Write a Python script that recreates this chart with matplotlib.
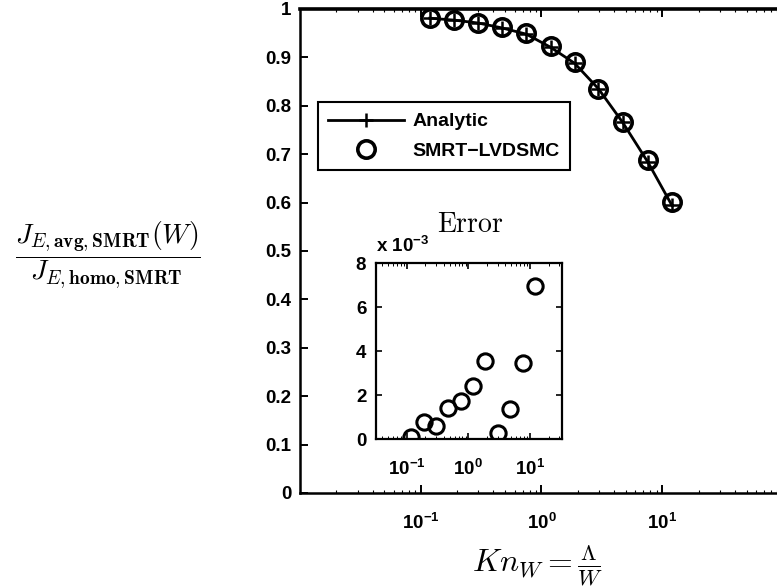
import numpy as np
import matplotlib
matplotlib.use("Agg")
import matplotlib.pyplot as plt
from matplotlib.ticker import LogLocator, FixedLocator, NullFormatter

plt.rcParams['font.family'] = ['Liberation Sans', 'DejaVu Sans']
plt.rcParams['font.weight'] = 'bold'
plt.rcParams['mathtext.fontset'] = 'cm'

# Knudsen numbers
kn = [0.119, 0.19, 0.30, 0.47, 0.75, 1.19, 1.88, 2.97, 4.7, 7.6, 12.0]
# normalised average flux
analytic = [0.981, 0.977, 0.971, 0.961, 0.948, 0.921, 0.888, 0.835, 0.766, 0.684, 0.595]
lvdsmc = [0.981, 0.978, 0.972, 0.962, 0.950, 0.923, 0.891, 0.835, 0.767, 0.687, 0.602]
# relative error, in units of 1e-3
err_e3 = [0.10, 0.79, 0.60, 1.42, 1.74, 2.42, 3.56, 0.26, 1.36, 3.44, 6.97]

main_yticks = [0, 0.1, 0.2, 0.3, 0.4, 0.5, 0.6, 0.7, 0.8, 0.9, 1]
main_yticklabels = ['0', '0.1', '0.2', '0.3', '0.4', '0.5', '0.6', '0.7', '0.8', '0.9', '1']
inset_yticks = [0, 2, 4, 6, 8]

fig = plt.figure(figsize=(7.77, 5.88), dpi=100)

# main axes (right edge runs off the picture, like the scan)
ax = fig.add_axes([0.386, 0.1616, 0.6216, 0.8231])
ax.plot(kn, analytic, color='black', lw=2, marker='+', ms=10, mew=1.8, label='Analytic')
ax.plot(kn, lvdsmc, ls='none', marker='o', ms=12.5, mfc='none', mec='black', mew=2.6,
        label='SMRT\u2212LVDSMC')
ax.set_xscale('log')
ax.set_xlim(1e-2, 1e2)
ax.set_ylim(0, 1)
ax.set_yticks(main_yticks)
ax.set_yticklabels(main_yticklabels)
ax.xaxis.set_major_locator(FixedLocator([1e-1, 1e0, 1e1]))
ax.xaxis.set_minor_locator(LogLocator(subs=np.arange(2, 10)))
ax.xaxis.set_minor_formatter(NullFormatter())
ax.tick_params(which='major', direction='in', length=6, width=1.4, top=True, right=False,
               labelsize=13.5, pad=6)
ax.tick_params(axis='x', which='major', pad=14)
ax.tick_params(which='minor', direction='in', length=2.5, width=0.8, top=True)
for s in ax.spines.values():
    s.set_linewidth(1.8)
ax.spines['top'].set_linewidth(2.6)

leg = ax.legend(loc='upper left', bbox_to_anchor=(0.409, 0.8265),
                bbox_transform=fig.transFigure, fancybox=False, edgecolor='black',
                framealpha=1, fontsize=14, handlelength=3.9, handletextpad=0.4,
                labelspacing=0.6, borderpad=0.55, borderaxespad=0)
leg.get_frame().set_linewidth(1.5)

fig.text(108 / 777, 1 - 255 / 588,
         r'$\dfrac{J_{E,\mathbf{avg,SMRT}}(W)}{J_{E,\mathbf{homo,SMRT}}}$',
         ha='center', va='center', fontsize=20, fontweight='normal')
fig.text(537 / 777, 1 - 566 / 588, r'$Kn_W = \frac{\Lambda}{W}$',
         ha='center', va='center', fontsize=23, fontweight='normal')

# inset with the error
ins = fig.add_axes([0.4839, 0.2534, 0.2394, 0.2993])
ins.plot(kn, err_e3, ls='none', marker='o', ms=11, mfc='none', mec='black', mew=2.2)
ins.set_xscale('log')
ins.set_xlim(10 ** -1.5, 10 ** 1.52)
ins.set_ylim(0, 8)
ins.set_yticks(inset_yticks)
ins.xaxis.set_major_locator(FixedLocator([1e-1, 1e0, 1e1]))
ins.xaxis.set_minor_locator(LogLocator(subs=np.arange(2, 10)))
ins.xaxis.set_minor_formatter(NullFormatter())
ins.tick_params(which='major', direction='in', length=4, width=1.2, top=True, right=True,
                labelsize=13.5, pad=7)
ins.tick_params(axis='x', which='major', pad=14)
ins.tick_params(which='minor', direction='in', length=2, width=0.7, top=True)
for s in ins.spines.values():
    s.set_linewidth(1.6)
ins.text(0.0, 1.04, r'x $\mathdefault{10^{-3}}$', transform=ins.transAxes,
         ha='left', va='bottom', fontsize=13.5)
fig.text(470 / 777, 1 - 225 / 588, r'$\mathrm{Error}$', ha='center', va='center',
         fontsize=20, fontweight='normal')

fig.savefig('out.png', dpi=100)
